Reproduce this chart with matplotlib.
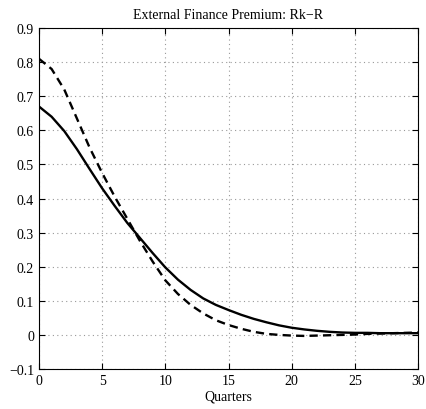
import matplotlib
matplotlib.use("Agg")
import matplotlib.pyplot as plt

quarters = list(range(0, 31))
solid = [0.67, 0.64, 0.598, 0.545, 0.487, 0.43, 0.378, 0.328, 0.284, 0.24,
         0.198, 0.162, 0.132, 0.107, 0.088, 0.073, 0.059, 0.047, 0.037, 0.028,
         0.021, 0.016, 0.012, 0.009, 0.007, 0.006, 0.006, 0.005, 0.005, 0.005, 0.005]
dashed = [0.81, 0.78, 0.72, 0.635, 0.55, 0.475, 0.405, 0.34, 0.275, 0.215,
          0.16, 0.12, 0.088, 0.063, 0.043, 0.029, 0.018, 0.009, 0.003, 0.0,
          -0.002, -0.003, -0.002, -0.001, 0.0, 0.001, 0.003, 0.004, 0.005, 0.006, 0.007]
xticks = [0, 5, 10, 15, 20, 25, 30]
yticks = [-0.1, 0, 0.1, 0.2, 0.3, 0.4, 0.5, 0.6, 0.7, 0.8, 0.9]
ytick_labels = ["\u22120.1", "0", "0.1", "0.2", "0.3", "0.4", "0.5", "0.6", "0.7", "0.8", "0.9"]

plt.rcParams['font.family'] = ['Liberation Serif', 'DejaVu Serif']
fig = plt.figure(figsize=(4.27, 4.10), dpi=100)
ax = fig.add_axes([0.0913, 0.0976, 0.8877, 0.8314])
ax.plot(quarters, solid, color='black', lw=1.7, linestyle='-')
ax.plot(quarters, dashed, color='black', lw=1.7, linestyle=(0, (3.5, 2.2)))
ax.set_xlim(0, 30)
ax.set_ylim(-0.1, 0.9)
ax.set_xticks(xticks)
ax.set_yticks(yticks)
ax.set_yticklabels(ytick_labels)
ax.tick_params(direction='in', labelsize=10, length=4, top=True, right=True)
ax.grid(True, linestyle=(0, (1, 3)), color='#999999', lw=0.8)
for s in ax.spines.values():
    s.set_linewidth(0.8)
ax.set_title("External Finance Premium: Rk\u2212R", fontsize=10, pad=7)
ax.set_xlabel("Quarters", fontsize=10, labelpad=2)
fig.savefig("out.png", dpi=100)
